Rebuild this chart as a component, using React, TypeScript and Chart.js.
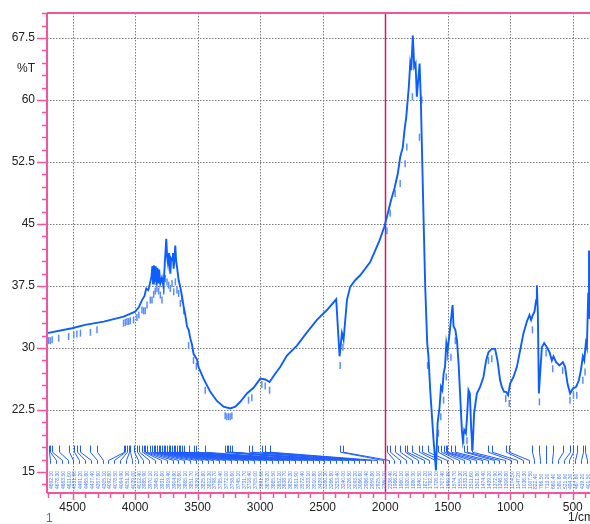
import { useEffect, useRef } from 'react';
import { Chart, registerables } from 'chart.js';

Chart.register(...registerables);

// Spectrum (wavenumber 1/cm, %T)
const spectrumWavenumbers = [
  4704, 4505, 4400, 4252, 4092, 4000, 3972, 3945, 3925, 3911, 3895, 3879, 3870, 3862, 3857, 3850, 3843, 3836, 3829, 3822,
  3815, 3808, 3799, 3786, 3773, 3762, 3751, 3744, 3737, 3728, 3719, 3712, 3705, 3698, 3692, 3685, 3679, 3672, 3665, 3652,
  3639, 3625, 3612, 3599, 3585, 3572, 3559, 3545, 3533, 3505, 3493, 3453, 3399, 3346, 3293, 3239, 3199, 3159, 3106, 3053,
  2999, 2959, 2925, 2880, 2840, 2786, 2706, 2626, 2546, 2466, 2392, 2365, 2346, 2333, 2306, 2280, 2240, 2200, 2120, 2046,
  2006, 1979, 1953, 1926, 1899, 1880, 1859, 1846, 1832, 1811, 1800, 1792, 1779, 1768, 1757, 1747, 1736, 1725, 1715, 1704,
  1693, 1680, 1664, 1654, 1640, 1613, 1594, 1581, 1565, 1554, 1543, 1533, 1522, 1511, 1501, 1485, 1474, 1461, 1453, 1439,
  1426, 1413, 1400, 1387, 1379, 1368, 1355, 1347, 1334, 1323, 1313, 1302, 1289, 1267, 1241, 1214, 1193, 1174, 1147, 1121,
  1102, 1081, 1067, 1049, 1033, 1017, 1001, 974, 947, 921, 894, 867, 846, 833, 819, 806, 793, 787, 779, 771,
  761, 747, 729, 707, 686, 667, 654, 633, 606, 579, 561, 542, 521, 499, 473, 451, 435, 419, 408, 395,
  387, 376, 370, 365,
];
const spectrumTransmittance = [
  31.8, 32.4, 32.8, 33.2, 33.8, 34.4, 34.9, 35.8, 36.3, 37.2, 37.0, 38.0, 38.6, 39.9, 37.8, 40.0, 38.0, 39.9, 37.6, 39.7,
  37.8, 39.5, 37.8, 38.5, 37.4, 40.5, 43.2, 41.0, 40.2, 41.5, 39.0, 40.8, 40.6, 41.5, 39.6, 41.0, 42.4, 40.5, 39.8, 38.2,
  37.4, 36.2, 35.0, 34.0, 32.6, 32.2, 31.2, 30.4, 29.3, 28.6, 27.7, 26.3, 24.7, 23.6, 22.9, 22.7, 22.9, 23.5, 24.5, 25.2,
  26.3, 26.2, 25.9, 26.9, 27.7, 29.1, 30.3, 31.9, 33.4, 34.6, 35.9, 29.0, 31.8, 31.0, 35.8, 37.4, 38.2, 38.8, 40.4, 43.0,
  44.7, 46.3, 47.9, 49.3, 51.1, 53.1, 54.3, 56.3, 57.9, 61.6, 64.4, 63.6, 67.8, 64.0, 64.4, 60.4, 62.4, 64.4, 60.0, 52.7,
  45.5, 37.4, 30.6, 29.0, 24.9, 18.8, 15.2, 20.9, 22.9, 25.3, 24.9, 26.9, 27.7, 30.6, 29.7, 31.8, 33.4, 35.2, 32.6, 32.2,
  30.9, 28.1, 24.1, 20.1, 18.8, 20.1, 19.7, 21.3, 24.9, 24.5, 20.5, 17.6, 22.1, 24.5, 25.3, 26.5, 28.5, 29.5, 29.9, 29.9,
  28.5, 26.1, 25.3, 24.7, 24.7, 24.3, 25.7, 26.5, 27.7, 29.7, 31.8, 33.2, 34.0, 33.4, 34.0, 34.4, 35.8, 37.6, 34.2, 24.5,
  26.9, 30.1, 30.6, 30.1, 29.5, 28.5, 29.0, 28.3, 27.9, 28.3, 27.7, 25.7, 24.5, 25.1, 25.3, 26.1, 27.3, 29.0, 28.5, 30.6,
  30.1, 36.6, 41.8, 33.5,
];

// Peak table (wavenumber and the %T where its marker dash sits)
const peakWavenumbers = [
  4692.1, 4678.3, 4663.5, 4611.6, 4531.9, 4491.2, 4465.8, 4437.4, 4357.6, 4305.1, 4092.8, 4078.5, 4064.9, 4051.3, 4039.0,
  4012.4, 3985.9, 3970.1, 3945.2, 3931.6, 3919.4, 3904.8, 3878.6, 3865.1, 3851.7, 3839.2, 3825.8, 3812.3, 3798.7, 3785.4,
  3772.0, 3758.6, 3745.1, 3731.7, 3718.4, 3705.0, 3691.6, 3678.2, 3665.5, 3652.1, 3638.7, 3625.3, 3611.9, 3572.4, 3533.1,
  3510.8, 3439.5, 3280.3, 3266.8, 3253.4, 3240.0, 3226.5, 3093.2, 3066.6, 2986.4, 2959.8, 2925.1, 2360.1, 2338.4,
  1986.2, 1960.1, 1920.6, 1880.3, 1840.5, 1827.2, 1782.3, 1726.1, 1707.4, 1660.8, 1574.7, 1555.3, 1533.2, 1511.6, 1501.8,
  1474.4, 1439.2, 1372.9, 1346.3, 1306.8, 1174.5, 1147.2, 1036.3, 1007.5, 822.4, 766.5, 713.2, 660.4, 580.6, 521.9,
  494.3, 467.6, 419.2, 401.5,
];
const peakMarkerTransmittance = [
  30.9, 30.9, 31.0, 31.2, 31.4, 31.6, 31.7, 31.8, 31.9, 32.2, 33.0, 33.1, 33.2, 33.2, 33.3,
  33.4, 33.7, 34.0, 34.6, 34.5, 34.5, 35.2, 35.8, 35.8, 36.5, 36.9, 37.2, 36.9, 36.4, 35.8,
  36.9, 38.4, 38.0, 37.6, 37.2, 37.8, 36.8, 38.0, 37.0, 36.6, 35.4, 36.0, 34.5, 30.3, 28.5,
  27.8, 24.9, 21.8, 21.7, 21.7, 21.7, 21.8, 23.7, 24.0, 25.6, 25.4, 24.9, 27.9, 30.1,
  44.2, 46.3, 48.7, 49.9, 52.3, 54.3, 60.4, 55.5, 60.0, 27.9, 19.7, 21.7, 23.7, 26.5, 28.9,
  28.9, 30.9, 18.8, 18.8, 18.0, 28.5, 28.7, 23.9, 23.3, 32.2, 23.5, 29.4, 27.5, 27.3, 23.7,
  24.3, 24.3, 26.1, 27.1,
];

const yMajorTicks = [15, 22.5, 30, 37.5, 45, 52.5, 60, 67.5];
const xMajorTicks = [4500, 4000, 3500, 3000, 2500, 2000, 1500, 1000, 500];
const yAxisTitle = '%T';
const xAxisTitle = '1/cm';
const spectrumIndexLabel = '1';

const X_MIN = 362;
const X_MAX = 4705;
const Y_MIN = 12.47;
const Y_MAX = 70.52;
const X_MINOR_STEP = 100;
const Y_MINOR_STEP = 1.5;

const PINK = '#f0559f';
const MAGENTA = '#d8146a';
const BLUE = '#0d5eff';
const FONT = '"Liberation Sans", Arial, sans-serif';

const irPlugin = {
  id: 'irDecor',
  beforeDatasetsDraw(chart: any) {
    const { ctx, chartArea: a, scales } = chart;
    const x = scales.x, y = scales.y;
    ctx.save();
    ctx.strokeStyle = '#7a7a7a';
    ctx.lineWidth = 1;
    ctx.setLineDash([1.5, 1.5]);
    for (const v of xMajorTicks) {
      if (v === 2000) continue;
      const px = Math.round(x.getPixelForValue(v)) + 0.5;
      ctx.beginPath(); ctx.moveTo(px, a.top); ctx.lineTo(px, a.bottom); ctx.stroke();
    }
    for (const v of yMajorTicks) {
      if (v === 15) continue;
      const py = Math.round(y.getPixelForValue(v)) + 0.5;
      ctx.beginPath(); ctx.moveTo(a.left, py); ctx.lineTo(a.right, py); ctx.stroke();
    }
    ctx.setLineDash([]);
    const p2000 = Math.round(x.getPixelForValue(2000)) + 0.5;
    ctx.strokeStyle = MAGENTA;
    ctx.lineWidth = 1.5;
    ctx.beginPath(); ctx.moveTo(p2000, a.top); ctx.lineTo(p2000, a.bottom); ctx.stroke();
    ctx.restore();
  },
  afterDatasetsDraw(chart: any) {
    const { ctx, chartArea: a, scales } = chart;
    const x = scales.x, y = scales.y;
    ctx.save();

    // peak table annotations
    const n = peakWavenumbers.length;
    const yTickTop = y.getPixelForValue(18.2);
    const yTickBot = y.getPixelForValue(17.4);
    const yLeadEnd = y.getPixelForValue(16.4);
    const yLabelTick = y.getPixelForValue(16.0);
    const yText = y.getPixelForValue(12.95);
    ctx.strokeStyle = '#1f5cff';
    ctx.lineWidth = 1;
    for (let i = 0; i < n; i++) {
      const px = Math.round(x.getPixelForValue(peakWavenumbers[i])) + 0.5;
      const lx = Math.round(a.left + 3 + (i * (a.width - 6)) / (n - 1)) + 0.5;
      ctx.beginPath();
      ctx.moveTo(px, yTickTop);
      ctx.lineTo(px, yTickBot);
      ctx.lineTo(lx, yLeadEnd);
      ctx.lineTo(lx, yLabelTick);
      ctx.stroke();
      ctx.save();
      ctx.translate(lx + 2, yText);
      ctx.rotate(-Math.PI / 2);
      ctx.fillStyle = '#4d7ff2';
      ctx.font = `5px ${FONT}`;
      ctx.textAlign = 'left';
      ctx.textBaseline = 'alphabetic';
      ctx.fillText(peakWavenumbers[i].toFixed(2), 0, 0);
      ctx.restore();
    }

    // axes
    ctx.strokeStyle = PINK;
    ctx.lineWidth = 2;
    ctx.beginPath();
    ctx.moveTo(a.left, a.top); ctx.lineTo(a.right, a.top);
    ctx.moveTo(a.left, a.top); ctx.lineTo(a.left, a.bottom);
    ctx.moveTo(a.left, a.bottom); ctx.lineTo(a.right, a.bottom);
    ctx.stroke();

    ctx.lineWidth = 1.5;
    // y ticks
    for (let k = 0; ; k++) {
      const v = 13.5 + k * Y_MINOR_STEP;
      if (v > Y_MAX) break;
      const major = yMajorTicks.some((m) => Math.abs(m - v) < 1e-6);
      const py = Math.round(y.getPixelForValue(v)) + 0.5;
      ctx.beginPath();
      ctx.moveTo(a.left, py);
      ctx.lineTo(a.left - (major ? 10 : 5), py);
      ctx.stroke();
    }
    // x ticks
    for (let v = 4700; v >= 400; v -= X_MINOR_STEP) {
      const major = xMajorTicks.includes(v);
      const px = Math.round(x.getPixelForValue(v)) + 0.5;
      ctx.beginPath();
      ctx.moveTo(px, a.bottom);
      ctx.lineTo(px, a.bottom + (major ? 7 : 5));
      ctx.stroke();
    }

    // texts
    ctx.font = `12px ${FONT}`;
    ctx.fillStyle = '#222';
    ctx.textAlign = 'right';
    ctx.textBaseline = 'middle';
    ctx.fillText(yAxisTitle, 35, y.getPixelForValue(63.8));
    ctx.textAlign = 'left';
    ctx.fillText(xAxisTitle, 568, 518);
    ctx.fillStyle = '#3a6fe0';
    ctx.textAlign = 'left';
    ctx.fillText(spectrumIndexLabel, 46, 519);
    ctx.restore();
  },
};

export default function App() {
  const ref = useRef<HTMLCanvasElement | null>(null);
  useEffect(() => {
    if (!ref.current) return;
    Chart.defaults.font.family = FONT;
    const chart = new Chart(ref.current, {
      data: {
        datasets: [
          {
            type: 'line',
            label: 'spectrum',
            data: spectrumWavenumbers.map((w, i) => ({ x: w, y: spectrumTransmittance[i] })),
            borderColor: BLUE,
            borderWidth: 1.9,
            pointRadius: 0,
            tension: 0,
            fill: false,
            order: 1,
          },
          {
            type: 'scatter',
            label: 'peaks',
            data: peakWavenumbers.map((w, i) => ({ x: w, y: peakMarkerTransmittance[i] })),
            pointStyle: 'line',
            rotation: 90,
            radius: 3.5,
            borderColor: '#5b8cff',
            borderWidth: 1.5,
            order: 2,
          },
        ],
      } as any,
      options: {
        responsive: false,
        animation: false,
        layout: { autoPadding: false, padding: { top: 13, right: 0, left: 0, bottom: 0 } },
        plugins: { legend: { display: false }, tooltip: { enabled: false } },
        scales: {
          x: {
            type: 'linear',
            reverse: true,
            min: X_MIN,
            max: X_MAX,
            grid: { display: false, drawTicks: false },
            border: { display: false },
            afterBuildTicks: (s: any) => {
              const t = [];
              for (let v = 400; v <= 4700; v += X_MINOR_STEP) t.push({ value: v });
              s.ticks = t;
            },
            afterFit: (s: any) => {
              s.height = 31;
              s.paddingLeft = 0; s.paddingRight = 0; s.paddingTop = 0; s.paddingBottom = 0;
            },
            ticks: {
              autoSkip: false,
              maxRotation: 0,
              padding: 7,
              color: '#222',
              font: { size: 12 },
              callback: (v: any) => (xMajorTicks.includes(Number(v)) ? String(v) : ''),
            },
          },
          y: {
            type: 'linear',
            min: Y_MIN,
            max: Y_MAX,
            grid: { display: false, drawTicks: false },
            border: { display: false },
            afterBuildTicks: (s: any) => {
              s.ticks = yMajorTicks.map((v) => ({ value: v }));
            },
            afterFit: (s: any) => {
              s.width = 47;
              s.paddingLeft = 0; s.paddingRight = 0; s.paddingTop = 0; s.paddingBottom = 0;
            },
            ticks: {
              autoSkip: false,
              padding: 12,
              color: '#222',
              font: { size: 12 },
              callback: (v: any) => String(v),
            },
          },
        },
      },
      plugins: [irPlugin],
    } as any);
    return () => chart.destroy();
  }, []);
  return (
    <div style={{ position: 'fixed', left: 0, top: 0, width: 590, height: 524, background: '#fff' }}>
      <canvas ref={ref} width={590} height={524} style={{ display: 'block' }} />
    </div>
  );
}
